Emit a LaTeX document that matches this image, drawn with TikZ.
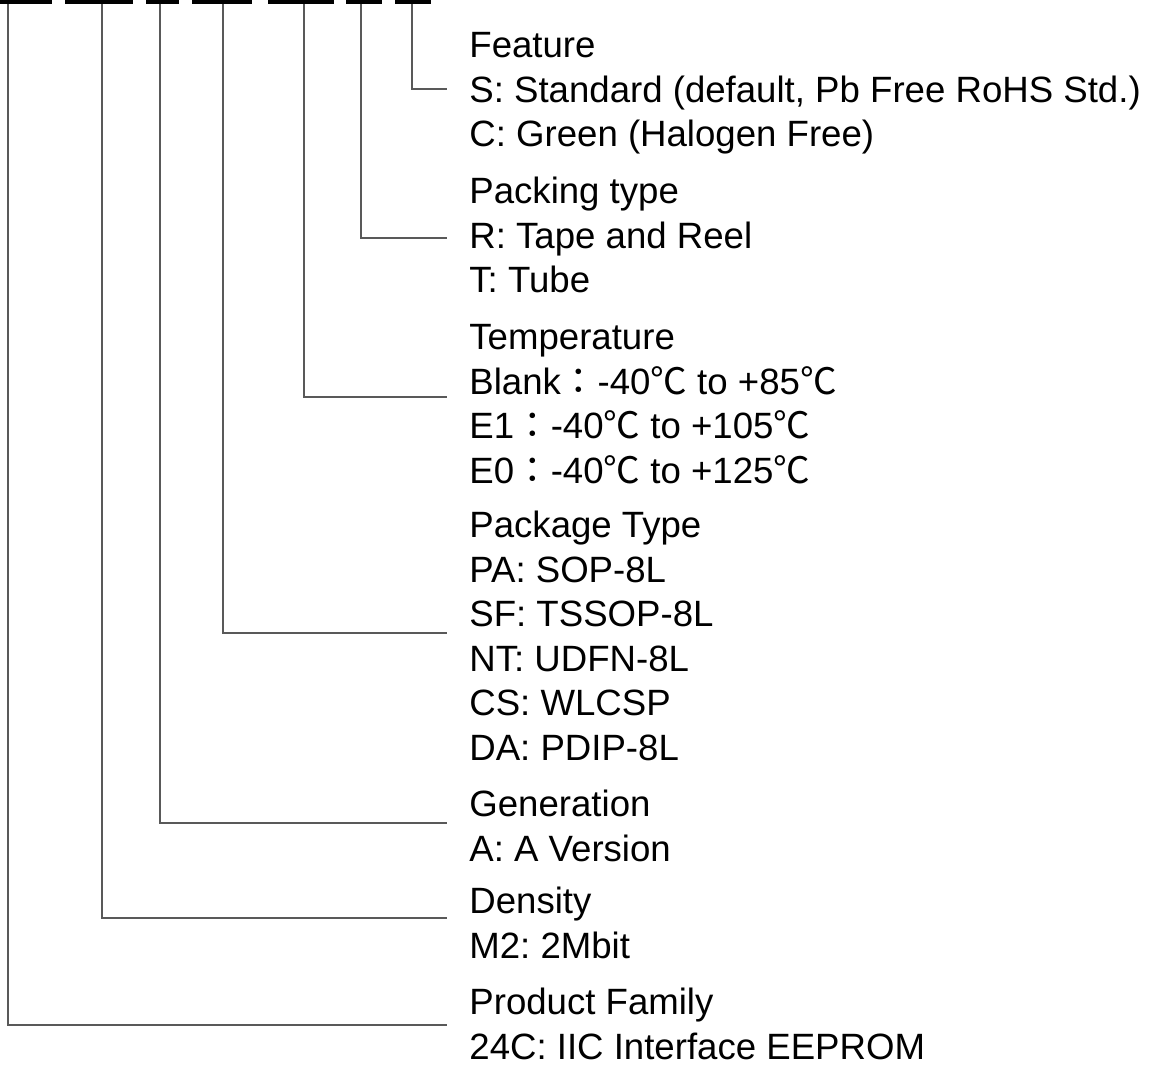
\documentclass[tikz,border=0pt]{standalone}
\usepackage{fontspec}
\setmainfont{Liberation Sans}
\newfontfamily\cjk{Noto Sans CJK TC}
\usetikzlibrary{positioning}
\newcommand{\degc}{{\cjk ℃}}
\newcommand{\fwcolon}{{\cjk ：}}
\frenchspacing

\tikzset{
  lead/.style={draw=black!65, line width=0.7pt},
  field/.style={anchor=north west, align=left, inner sep=0pt,
    font=\fontsize{18.3}{22.25}\selectfont},
}

\begin{document}
\begin{tikzpicture}[x=0.5pt,y=-0.5pt]
\useasboundingbox (0,0) rectangle (1159,1066);

% Part number fields
\foreach \a/\b in {0/52,65/133,146/179,192/252,268/334,346/382,395/431}
  \fill (\a,0) rectangle (\b,4);

% Taps under the fields and ends at the texts
\foreach \n/\x/\y in {1/8/1025,2/102/918,3/160/823,4/223/633,5/304/397,6/361/238,7/412/89}{
  \coordinate (t\n) at (\x,4);
  \coordinate (e\n) at (447,\y);
}

\node[field] (feat) at (469,26) {\strut Feature\\S: Standard (default, Pb Free RoHS Std.)\\C: Green (Halogen Free)};
\node[field] (pack) at (469,172) {\strut Packing type\\R: Tape and Reel\\T: Tube};
\node[field] (temp) at (469,318) {\strut Temperature\\Blank\fwcolon-40\degc{} to +85\degc\\E1\fwcolon-40\degc{} to +105\degc\\E0\fwcolon-40\degc{} to +125\degc};
\node[field] (pkg) at (469,506) {\strut Package Type\\PA: SOP-8L\\SF: TSSOP-8L\\NT: UDFN-8L\\CS: WLCSP\\DA: PDIP-8L};
\node[field] (gen) at (469,785) {\strut Generation\\A: A Version};
\node[field] (dens) at (469,882) {\strut Density\\M2: 2Mbit};
\node[field] (fam) at (469,983) {\strut Product Family\\24C: IIC Interface EEPROM};

\foreach \n in {1,...,7}
  \draw[lead] (t\n) |- (e\n);
\end{tikzpicture}
\end{document}
